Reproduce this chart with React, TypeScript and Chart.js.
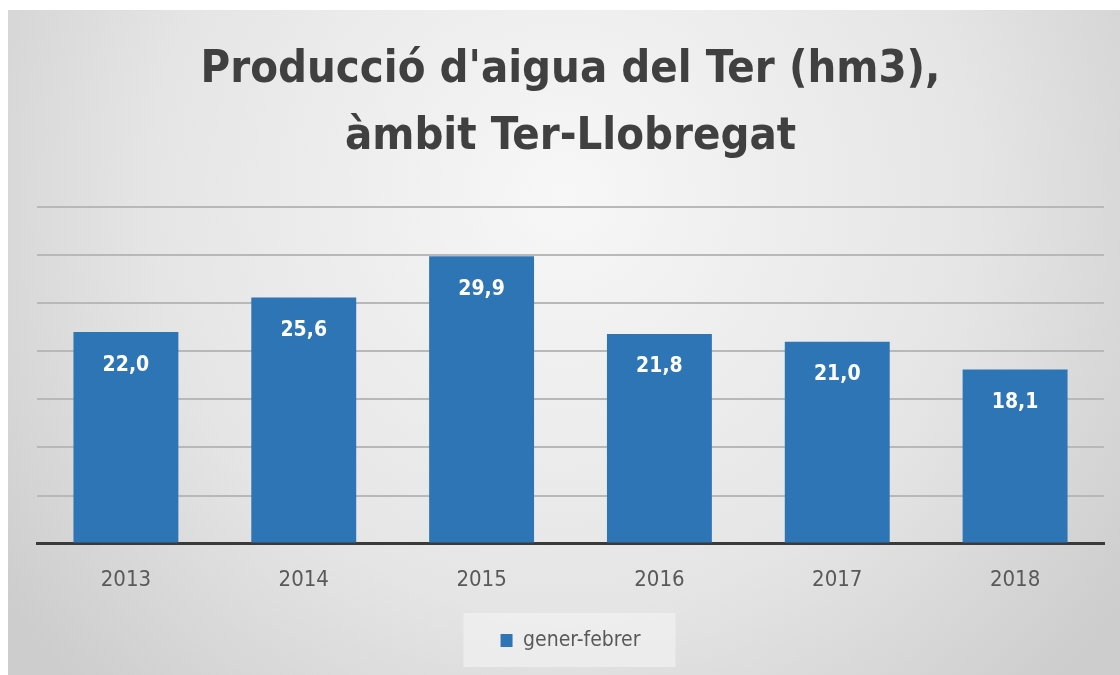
import React, { useEffect, useRef } from "react";
import { Chart, registerables } from "chart.js";

Chart.register(...registerables);

const years = ["2013", "2014", "2015", "2016", "2017", "2018"];
const generFebrer = [22.0, 25.6, 29.9, 21.8, 21.0, 18.1];
const seriesLabel = "gener-febrer";
const titleLines = ["Producció d'aigua del Ter (hm3),", "àmbit Ter-Llobregat"];

const FONT = "'Liberation Sans Narrow', 'DejaVu Sans Condensed', 'Noto Sans', sans-serif";
const BLUE = "#2e75b6";

const bgPlugin = {
  id: "bgPlugin",
  beforeDraw(chart: any) {
    const { ctx, width, height } = chart;
    ctx.save();
    const g = ctx.createRadialGradient(width / 2, height * 0.28, 0, width / 2, height * 0.28, width * 0.62);
    g.addColorStop(0, "#f7f7f7");
    g.addColorStop(0.6, "#e5e5e5");
    g.addColorStop(1, "#cdcdcd");
    ctx.fillStyle = g;
    ctx.fillRect(0, 0, width, height);
    const lg = chart.legend;
    if (lg) {
      ctx.fillStyle = "rgba(245,245,245,0.55)";
      const cx = (lg.left + lg.right) / 2;
      ctx.fillRect(cx - 107, lg.top - 3, 212, 54);
    }
    ctx.restore();
  },
};

const labelPlugin = {
  id: "labelPlugin",
  afterDatasetsDraw(chart: any) {
    const { ctx } = chart;
    const meta = chart.getDatasetMeta(0);
    ctx.save();
    ctx.fillStyle = "#ffffff";
    ctx.font = `bold 21px ${FONT}`;
    ctx.textAlign = "center";
    ctx.textBaseline = "middle";
    meta.data.forEach((bar: any, i: number) => {
      const v = chart.data.datasets[0].data[i] as number;
      ctx.fillText(v.toFixed(1).replace(".", ","), bar.x, bar.y + 33);
    });
    ctx.restore();
  },
};

export default function App() {
  const ref = useRef<HTMLCanvasElement | null>(null);
  useEffect(() => {
    document.body.style.margin = "0";
    if (!ref.current) return;
    const chart = new Chart(ref.current, {
      type: "bar",
      data: {
        labels: years,
        datasets: [
          {
            label: seriesLabel,
            data: generFebrer,
            backgroundColor: BLUE,
            borderWidth: 0,
            categoryPercentage: 1,
            barPercentage: 0.59,
          },
        ],
      },
      plugins: [bgPlugin, labelPlugin],
      options: {
        animation: false,
        responsive: false,
        layout: { padding: { left: 29, right: 16, top: 0, bottom: 14 } },
        plugins: {
          tooltip: { enabled: false },
          title: {
            display: true,
            text: titleLines,
            color: "#404040",
            font: { family: FONT, size: 45, weight: "bold", lineHeight: 1.49 },
            padding: { top: 27, bottom: 36 },
          },
          legend: {
            display: true,
            position: "bottom",
            labels: {
              color: "#595959",
              font: { family: FONT, size: 21 },
              boxWidth: 12,
              boxHeight: 13,
              padding: 14,
            },
          },
        },
        scales: {
          x: {
            grid: { display: false, drawTicks: false },
            border: { display: true, color: "#3a3a3a", width: 3 },
            ticks: { color: "#595959", font: { family: FONT, size: 22 }, padding: 23 },
          },
          y: {
            min: 0,
            max: 35,
            ticks: { display: false, stepSize: 5 },
            grid: { color: "#b8b8b8", lineWidth: 2, drawTicks: false },
            border: { display: false },
          },
        },
      },
    });
    return () => chart.destroy();
  }, []);
  return (
    <div style={{ paddingTop: 10, paddingLeft: 8, width: 1112, height: 665 }}>
      <canvas ref={ref} width={1112} height={665} style={{ display: "block" }} />
    </div>
  );
}
